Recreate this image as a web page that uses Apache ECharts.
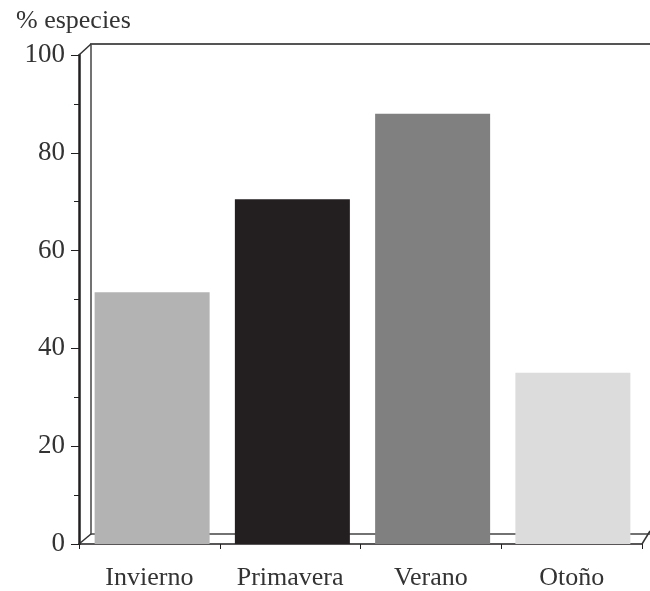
<!DOCTYPE html>
<html><head><meta charset="utf-8">
<script src="https://cdn.jsdelivr.net/npm/echarts@6/dist/echarts.min.js"></script>
<style>html,body{margin:0;padding:0;background:#fff}#c{width:650px;height:591px}</style>
</head><body><div id="c"></div>
<script>
const categories = ['Invierno', 'Primavera', 'Verano', 'Otoño'];
const values = [51.5, 70.5, 88, 35];
const colors = ['#b3b3b3', '#231f20', '#808080', '#dcdcdd'];
const yTicks = [0, 20, 40, 60, 80, 100];
const yTitle = '% especies';

const F = 'Liberation Serif';
const front = {left: 79, right: 8, top: 55, bottom: 47};
const back = {left: 91, right: 0, top: 44, bottom: 57};
const barGrid = {left: 82, right: 7, top: 55, bottom: 47};
const W = 650, H = 591;
const diag = (x1, y1, x2, y2) => ({type: 'line', z: 1, shape: {x1, y1, x2, y2}, style: {stroke: '#333', lineWidth: 1.5}});

const chart = echarts.init(document.getElementById('c'), null, {renderer: 'canvas'});
chart.setOption({
  animation: false,
  backgroundColor: '#fff',
  grid: [Object.assign({}, front), Object.assign({}, back), Object.assign({}, barGrid)],
  title: {text: yTitle, left: 11, top: 3, textStyle: {fontFamily: F, fontSize: 26, fontWeight: 'normal', color: '#333'}},
  xAxis: [
    {type: 'category', gridIndex: 0, data: categories, boundaryGap: true,
     axisLine: {lineStyle: {color: '#231f20', width: 1.5}},
     axisTick: {show: true, interval: 0, length: 5, lineStyle: {color: '#231f20'}},
     axisLabel: {fontFamily: F, fontSize: 26, color: '#333', margin: 21}},
    {type: 'category', gridIndex: 1, data: categories, position: 'bottom',
     axisLine: {lineStyle: {color: '#444', width: 1.5}}, axisTick: {show: false}, axisLabel: {show: false}},
    {type: 'category', gridIndex: 1, data: categories, position: 'top',
     axisLine: {lineStyle: {color: '#555', width: 2}}, axisTick: {show: false}, axisLabel: {show: false}},
    {type: 'category', gridIndex: 2, data: categories, show: false}
  ],
  yAxis: [
    {type: 'value', gridIndex: 0, min: yTicks[0], max: yTicks[yTicks.length - 1], interval: 20,
     axisLine: {show: true, lineStyle: {color: '#231f20', width: 2.5}},
     axisTick: {show: true, length: 8, lineStyle: {color: '#231f20', width: 1}},
     minorTick: {show: true, splitNumber: 2, length: 5, lineStyle: {color: '#231f20', width: 1}},
     splitLine: {show: false},
     axisLabel: {fontFamily: F, fontSize: 27, color: '#333', margin: 14}},
    {type: 'value', gridIndex: 1, min: 0, max: 100, interval: 20,
     axisLine: {show: true, lineStyle: {color: '#444', width: 1.5}},
     axisTick: {show: false}, axisLabel: {show: false}, splitLine: {show: false}},
    {type: 'value', gridIndex: 2, min: 0, max: 100, show: false, splitLine: {show: false}}
  ],
  series: [{
    type: 'bar', xAxisIndex: 3, yAxisIndex: 2, barWidth: 115, z: 3,
    data: values.map((v, i) => ({value: v, itemStyle: {color: colors[i]}}))
  }],
  graphic: [
    diag(front.left, front.top, back.left, back.top),
    diag(front.left, H - front.bottom, back.left, H - back.bottom),
    diag(W - front.right, H - front.bottom, W - back.right, H - back.bottom - 3)
  ]
});
</script></body></html>
